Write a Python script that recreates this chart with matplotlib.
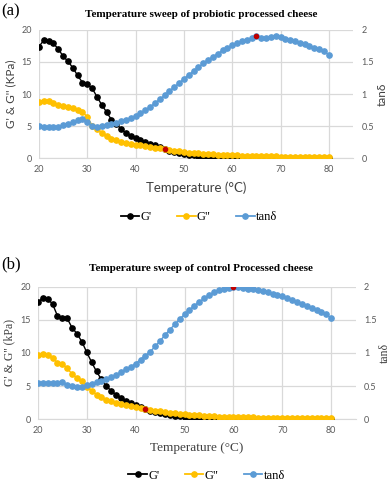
import numpy as np
import matplotlib
matplotlib.use("Agg")
import matplotlib.pyplot as plt
from matplotlib.lines import Line2D

# temperature steps, 1 degC apart
temp = list(range(20, 81))

# panel (a): probiotic processed cheese
g1_a = [17.4, 18.4, 18.3, 17.9, 17.0, 15.9, 15.1, 14.1, 12.9, 11.8, 11.5, 10.9, 9.6, 8.3, 7.2, 6.0,
        5.3, 4.6, 3.9, 3.5, 3.1, 2.8, 2.6, 2.3, 2.05, 1.75, 1.45, 1.15, 0.95, 0.8, 0.65, 0.55,
        0.45, 0.38, 0.32, 0.27, 0.22, 0.18, 0.15, 0.12, 0.1, 0.09, 0.08, 0.07, 0.07, 0.06, 0.06,
        0.05, 0.05, 0.05, 0.04, 0.04, 0.04, 0.04, 0.03, 0.03, 0.03, 0.03, 0.03, 0.03, 0.03]
g2_a = [8.8, 9.0, 8.9, 8.55, 8.3, 8.1, 7.95, 7.8, 7.5, 7.2, 6.5, 5.1, 4.5, 3.9, 3.45, 3.05,
        2.8, 2.6, 2.42, 2.25, 2.12, 2.0, 1.88, 1.77, 1.66, 1.56, 1.45, 1.3, 1.19, 1.09, 0.99,
        0.9, 0.83, 0.78, 0.73, 0.68, 0.63, 0.58, 0.54, 0.5, 0.47, 0.44, 0.41, 0.39, 0.37, 0.35,
        0.33, 0.31, 0.3, 0.28, 0.27, 0.26, 0.25, 0.24, 0.23, 0.22, 0.21, 0.21, 0.2, 0.2, 0.19]
tan_a = [0.51, 0.49, 0.485, 0.485, 0.495, 0.515, 0.535, 0.56, 0.59, 0.605, 0.565, 0.5, 0.495,
         0.51, 0.52, 0.535, 0.55, 0.575, 0.6, 0.63, 0.66, 0.7, 0.75, 0.8, 0.86, 0.92, 0.98,
         1.05, 1.11, 1.17, 1.24, 1.3, 1.36, 1.42, 1.48, 1.53, 1.58, 1.63, 1.68, 1.72, 1.76,
         1.79, 1.82, 1.85, 1.87, 1.9, 1.87, 1.87, 1.89, 1.9, 1.89, 1.86, 1.84, 1.82, 1.8,
         1.78, 1.75, 1.72, 1.7, 1.67, 1.61]
red_a = (46, 65)  # highlighted points: G' crossover, tan peak

# panel (b): control processed cheese
g1_b = [17.7, 18.2, 18.1, 17.4, 15.6, 15.2, 15.2, 13.8, 12.9, 11.7, 10.1, 8.6, 7.2, 6.0, 5.0,
        4.3, 3.7, 3.2, 2.8, 2.4, 2.1, 1.85, 1.55, 1.3, 1.1, 0.95, 0.8, 0.68, 0.57, 0.48, 0.4,
        0.34, 0.28, 0.24, 0.2, 0.17, 0.14, 0.12, 0.1, 0.09, 0.08, 0.07, 0.06, 0.06, 0.05, 0.05,
        0.04, 0.04, 0.04, 0.03, 0.03, 0.03, 0.03, 0.03, 0.02, 0.02, 0.02, 0.02, 0.02, 0.02, 0.02]
g2_b = [9.7, 9.8, 9.75, 9.3, 8.5, 8.4, 7.65, 6.85, 6.2, 5.7, 4.9, 4.3, 3.7, 3.3, 2.95, 2.7,
        2.45, 2.25, 2.1, 1.95, 1.8, 1.68, 1.55, 1.42, 1.3, 1.18, 1.07, 0.98, 0.9, 0.82, 0.75,
        0.69, 0.63, 0.58, 0.53, 0.49, 0.45, 0.42, 0.39, 0.36, 0.34, 0.32, 0.3, 0.28, 0.27, 0.25,
        0.24, 0.23, 0.22, 0.21, 0.2, 0.19, 0.19, 0.18, 0.18, 0.17, 0.17, 0.16, 0.16, 0.15, 0.15]
tan_b = [0.55, 0.54, 0.54, 0.54, 0.55, 0.56, 0.51, 0.5, 0.485, 0.49, 0.51, 0.53, 0.56, 0.58,
         0.61, 0.64, 0.67, 0.71, 0.75, 0.79, 0.84, 0.9, 0.96, 1.02, 1.1, 1.18, 1.27, 1.35, 1.43,
         1.51, 1.58, 1.65, 1.71, 1.77, 1.82, 1.87, 1.91, 1.94, 1.96, 1.98, 1.99, 1.985, 1.975,
         1.965, 1.955, 1.945, 1.935, 1.915, 1.885, 1.87, 1.855, 1.82, 1.795, 1.77, 1.73, 1.71,
         1.68, 1.65, 1.62, 1.58, 1.52]
red_b = (42, 60)

BLACK = "#000000"
YELLOW = "#FFC000"
BLUE = "#5B9BD5"
RED = "#C00000"
GRID = "#D9D9D9"
TICK = "#595959"
SANS = ["Lato", "DejaVu Sans"]
SERIF = ["Liberation Serif", "DejaVu Serif"]

fig = plt.figure(figsize=(3.9, 4.82), dpi=100)


def panel(rect, g1, g2, tan, red, title, tag, tag_xy, title_y, ylab, lab_font, leg_x, leg_y):
    ax = fig.add_axes(rect)
    ms = 3.8
    ax.plot(temp, g1, color=BLACK, marker="o", ms=ms, lw=1, zorder=3)
    ax.plot(temp, g2, color=YELLOW, marker="o", ms=ms, lw=1, zorder=4)
    i = temp.index(red[0])
    ax.plot(temp[i], g1[i], "o", color=RED, ms=ms - 0.8, zorder=5)
    ax.set_xlim(20, 85)
    ax.set_ylim(0, 20)
    ax.set_xticks(range(20, 81, 10))
    ax.set_yticks(range(0, 21, 5))
    ax.grid(True, color=GRID, lw=0.9)
    ax.set_axisbelow(True)
    for s in ["top", "left", "right"]:
        ax.spines[s].set_visible(False)
    ax.spines["bottom"].set_color(GRID)
    ax.tick_params(length=0, labelsize=6.5, labelcolor=TICK, pad=5)
    for lbl in ax.get_xticklabels() + ax.get_yticklabels():
        lbl.set_family(SANS)
    ax.set_xlabel("Temperature (\u00b0C)", family=lab_font, fontsize=9.5, color="#404040", labelpad=5)
    ax.set_ylabel(ylab, family=lab_font, fontsize=8.5, color="#404040", labelpad=4)

    ax2 = ax.twinx()
    ax2.plot(temp, tan, color=BLUE, marker="o", ms=ms, lw=1, zorder=3)
    j = temp.index(red[1])
    ax2.plot(temp[j], tan[j], "o", color=RED, ms=ms - 0.8, zorder=5)
    ax2.set_ylim(0, 2)
    ax2.set_yticks([0, 0.5, 1, 1.5, 2])
    ax2.set_yticklabels(["0", "0.5", "1", "1.5", "2"])
    for s in ax2.spines.values():
        s.set_visible(False)
    ax2.tick_params(length=0, labelsize=6.5, labelcolor=TICK, pad=6)
    for lbl in ax2.get_yticklabels():
        lbl.set_family(SANS)
    ax2.set_ylabel("tan\u03b4", family=lab_font, fontsize=8.5, color="#404040", labelpad=2)

    fig.text(0.515, title_y, title, ha="center", va="center", family=SERIF,
             fontsize=8, fontweight="bold")
    fig.text(tag_xy[0], tag_xy[1], tag, ha="left", va="center", family=SERIF, fontsize=12)

    handles = [
        Line2D([], [], color=BLACK, marker="o", ms=ms, lw=1.3, label="G'"),
        Line2D([], [], color=YELLOW, marker="o", ms=ms, lw=1.3, label='G"'),
        Line2D([], [], color=BLUE, marker="o", ms=ms, lw=1.3, label="tan\u03b4"),
    ]
    fig.legend(handles=handles, loc="center", bbox_to_anchor=(leg_x, leg_y), ncol=3,
               frameon=False, prop={"family": SERIF, "size": 9}, handlelength=1.5,
               handletextpad=0.1, columnspacing=2.0)
    return ax


panel([0.1, 0.6716, 0.805, 0.2664], g1_a, g2_a, tan_a, red_a,
      "Temperature sweep of probiotic processed cheese", "(a)", (0.003, 0.976), 0.97,
      "G' & G'' (KPa)", SANS, 0.51, 0.55)
panel([0.097, 0.1301, 0.815, 0.2755], g1_b, g2_b, tan_b, red_b,
      "Temperature sweep of control Processed cheese", "(b)", (0.003, 0.452), 0.442,
      "G' & G'' (kPa)", SERIF, 0.53, 0.013)

fig.savefig("out.png", dpi=100)
